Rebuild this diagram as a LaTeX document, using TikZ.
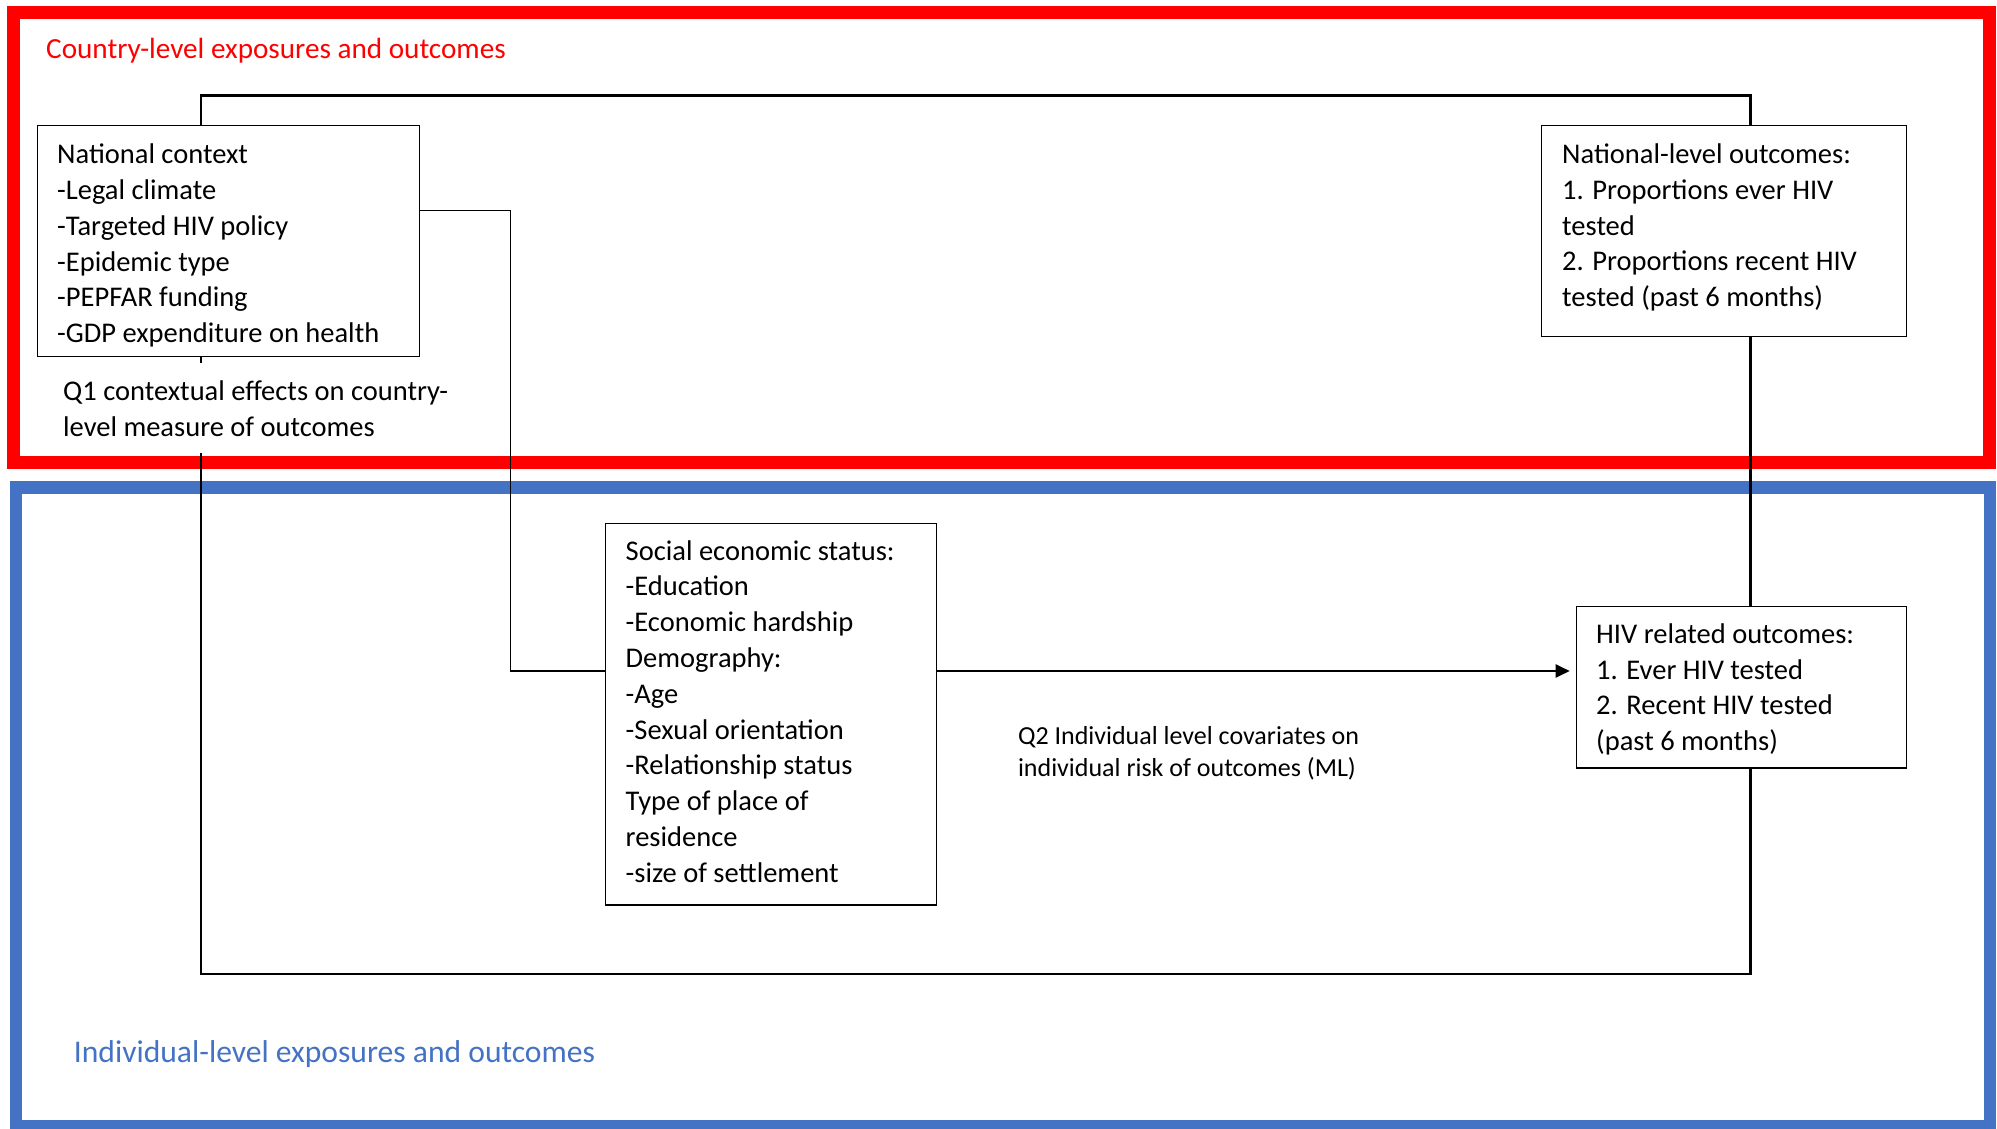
\documentclass[tikz,border=0pt]{standalone}
\usepackage{fontspec}
\setmainfont{Carlito}
\usetikzlibrary{arrows.meta,calc,backgrounds}
\definecolor{framered}{RGB}{255,0,0}
\definecolor{frameblue}{RGB}{68,114,196}
\begin{document}
\begin{tikzpicture}[x=1pt,y=-1pt,
  frame/.style={line width=12.5pt},
  panel/.style={draw=black, line width=1.3pt, fill=white, anchor=north west, inner sep=0pt},
  % multi-line texts are placed by the baseline of their last line
  body/.style={anchor=base west, inner sep=0pt, align=left,
    font=\fontsize{28.5}{35.8}\selectfont},
  note/.style={anchor=base west, inner sep=0pt, align=left,
    font=\fontsize{26}{32}\selectfont},
  heading/.style={anchor=base west, inner sep=0pt},
  link/.style={line width=1.3pt},
  loopline/.style={line width=2.7pt},
  flow/.style={line width=2pt, -{Triangle[length=14pt,width=13pt]}, shorten >=6pt},
]
\useasboundingbox (0,0) rectangle (1997,1129);

% boxes
\node[panel, minimum width=382pt, minimum height=231pt] (nat) at (37,125) {};
\node[panel, minimum width=365.5pt, minimum height=210.7pt] (natout) at (1540.5,125) {};
\node[panel, minimum width=331pt, minimum height=381.6pt] (ses) at (604.5,522.7) {};
\node[panel, minimum width=330.3pt, minimum height=161.3pt] (hiv) at (1575.7,606) {};

% box texts
\node[body] (natT) at (57,342.7) {National context\\-Legal climate\\-Targeted HIV policy\\-Epidemic type\\-PEPFAR funding\\-GDP expenditure on health};
\node[body] (natoutT) at (1562,306.7) {National-level outcomes:\\1. Proportions ever HIV\\tested\\2. Proportions recent HIV\\tested (past 6 months)};
\node[body] (sesT) at (625.5,882.3) {Social economic status:\\-Education\\-Economic hardship\\Demography:\\-Age\\-Sexual orientation\\-Relationship status\\Type of place of\\residence\\-size of settlement};
\node[body] (hivT) at (1596,750.7) {HIV related outcomes:\\1. Ever HIV tested\\2. Recent HIV tested\\(past 6 months)};

% question labels
\node[body, fill=white, inner xsep=4pt, inner ysep=17pt] (q1) at (59,436) {Q1 contextual effects on country-\\level measure of outcomes};
\node[note] (q2) at (1017.8,776.7) {Q2 Individual level covariates on\\individual risk of outcomes (ML)};

% level titles
\node[heading, text=framered, font=\fontsize{29.2}{34}\selectfont] (ctitle) at (46,58.3) {Country-level exposures and outcomes};
\node[heading, text=frameblue, font=\fontsize{31.6}{36}\selectfont] (ititle) at (73.7,1062.3) {Individual-level exposures and outcomes};

\begin{pgfonlayer}{background}
  % level frames
  \draw[frame, framered] (13.5,12.5) rectangle (1989.5,462.5);
  \draw[frame, frameblue] (16,487.5) rectangle (1990,1126);
  % loop linking the national and individual levels
  \coordinate (loopnw) at (201,95.5);
  \coordinate (loopse) at (1750.5,974);
  \draw[loopline] (loopnw) rectangle (loopse);
  % national context feeding the individual covariates
  \draw[link] ($(nat.north east)+(0,85.7)$) -- ++(90.5,0) |- ($(ses.north west)+(0,148.3)$);
  % individual covariates to HIV outcomes
  \draw[flow] ($(ses.north east)+(0,148.3)$) -- ($(hiv.north west)+(0,65)$);
\end{pgfonlayer}
\end{tikzpicture}
\end{document}
